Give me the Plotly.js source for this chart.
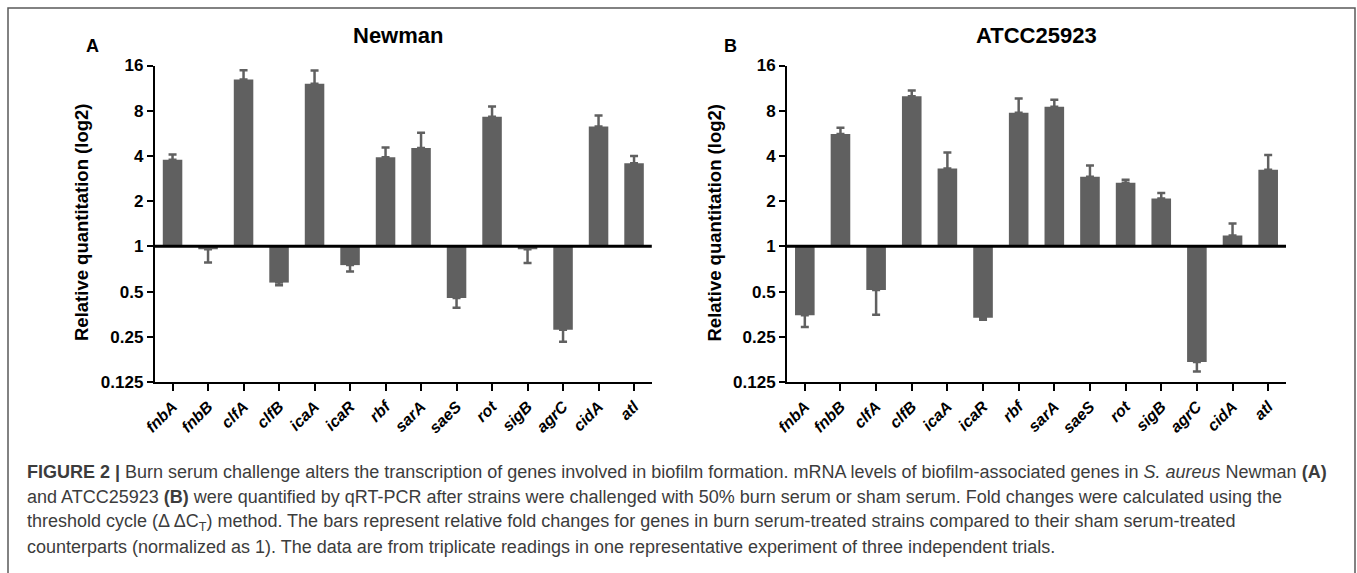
<!DOCTYPE html>
<html>
<head>
<meta charset="utf-8">
<script src="https://cdn.plot.ly/plotly-3.0.1.min.js"></script>
<style>
html,body{margin:0;padding:0;background:#fff;}
#chart{width:1357px;height:573px;}
</style>
</head>
<body>
<div id="chart"></div>
<script>
// ---- data (fold change values) ----
var genes = ["fnbA","fnbB","clfA","clfB","icaA","icaR","rbf","sarA","saeS","rot","sigB","agrC","cidA","atl"];
var yTickVals = [0.125, 0.25, 0.5, 1, 2, 4, 8, 16];
var yTickText = ["0.125","0.25","0.5","1","2","4","8","16"];

// Newman (A): bar value and end of whisker (fold change)
var newmanFold   = [3.77, 0.955, 12.9, 0.574, 12.1, 0.75, 3.92, 4.51, 0.453, 7.29, 0.955, 0.278, 6.28, 3.58];
var newmanErrEnd = [4.09, 0.78, 14.9, 0.55, 14.8, 0.68, 4.56, 5.7, 0.39, 8.54, 0.775, 0.232, 7.44, 4.0];

// ATCC25923 (B)
var atccFold   = [0.348, 5.59, 0.512, 10.0, 3.3, 0.335, 7.74, 8.5, 2.91, 2.65, 2.08, 0.170, 1.18, 3.24];
var atccErrEnd = [0.29, 6.16, 0.35, 10.9, 4.22, 0.325, 9.65, 9.45, 3.46, 2.78, 2.27, 0.147, 1.42, 4.05];

// ---- helpers ----
var W = 1357, H = 573;
function X(p){ return p / W; }
function Y(p){ return 1 - p / H; }
var barColor = "rgb(96,96,96)";
var fontFam = "Arial, 'Liberation Sans', Helvetica, sans-serif";

function log2(v){ return Math.log(v) / Math.LN2; }
function makeTrace(fold, errEnd, xa, ya){
  var y = fold.map(log2);
  var plus = fold.map(function(v,i){ return v >= 1 ? log2(errEnd[i]) - log2(v) : 0; });
  var minus = fold.map(function(v,i){ return v < 1 ? log2(v) - log2(errEnd[i]) : 0; });
  return {
    type: "bar", x: genes, y: y, xaxis: xa, yaxis: ya,
    marker: {color: barColor, line: {width: 0}},
    error_y: {type: "data", symmetric: false, array: plus, arrayminus: minus,
              color: barColor, thickness: 2.5, width: 4},
    hoverinfo: "none",
    showlegend: false
  };
}

var data = [
  makeTrace(newmanFold, newmanErrEnd, "x", "y"),
  makeTrace(atccFold, atccErrEnd, "x2", "y2")
];

var yVals = yTickVals.map(log2);
function xAxis(domain, anchor){
  return {
    domain: domain, anchor: anchor, type: "category",
    range: [-0.5, genes.length - 0.5],
    showline: true, linecolor: "#000", linewidth: 2,
    ticks: "outside", ticklen: 7, tickwidth: 2, tickcolor: "#000",
    tickangle: -45, showgrid: false, zeroline: false,
    tickfont: {family: fontFam, size: 16, color: "#000", weight: "bold", style: "italic"}
  };
}
function yAxis(domain, anchor){
  return {
    domain: domain, anchor: anchor,
    range: [log2(yTickVals[0]), log2(yTickVals[yTickVals.length-1])],
    tickmode: "array", tickvals: yVals, ticktext: yTickText,
    showline: true, linecolor: "#000", linewidth: 2,
    ticks: "outside", ticklen: 6, tickwidth: 2, tickcolor: "#000",
    showgrid: false, zeroline: false,
    tickfont: {family: fontFam, size: 17, color: "#000", weight: "bold"}
  };
}

var yDom = [Y(382), Y(65.5)];
var capFont = {family: fontFam, size: 18, color: "#3c3c3c"};
var captionLines = [
  "<b>FIGURE 2 |</b> Burn serum challenge alters the transcription of genes involved in biofilm formation. mRNA levels of biofilm-associated genes in <i>S. aureus</i> Newman <b>(A)</b>",
  "and ATCC25923 <b>(B)</b> were quantified by qRT-PCR after strains were challenged with 50% burn serum or sham serum. Fold changes were calculated using the",
  "threshold cycle (\u0394\u2009\u0394C<sub>T</sub>) method. The bars represent relative fold changes for genes in burn serum-treated strains compared to their sham serum-treated",
  "counterparts (normalized as 1). The data are from triplicate readings in one representative experiment of three independent trials."
];
var captionY = [472, 497, 522, 547];

function ann(text, px, py, size, extra){
  var a = {text: text, x: X(px), y: Y(py), xref: "paper", yref: "paper", showarrow: false,
           xanchor: "center", yanchor: "middle", font: {family: fontFam, size: size, color: "#000"}};
  for (var k in (extra || {})) a[k] = extra[k];
  return a;
}
var annotations = [
  ann("<b>Newman</b>", 398, 36, 22),
  ann("<b>ATCC25923</b>", 1036, 36, 22),
  ann("<b>A</b>", 92, 46, 18),
  ann("<b>B</b>", 730, 46, 18),
  ann("<b>Relative quantitation (log2)</b>", 81, 223, 18.5, {textangle: -90}),
  ann("<b>Relative quantitation (log2)</b>", 713.5, 223, 18.5, {textangle: -90})
];
captionLines.forEach(function(t, i){
  annotations.push({text: t, x: X(25), y: Y(captionY[i]), xref: "paper", yref: "paper",
    xanchor: "left", yanchor: "middle", showarrow: false, align: "left", font: capFont});
});

var layout = {
  width: W, height: H,
  margin: {l: 0, r: 0, t: 0, b: 0},
  paper_bgcolor: "#fff", plot_bgcolor: "rgba(0,0,0,0)",
  bargap: 0.45,
  xaxis: xAxis([X(154.8), X(651.8)], "y"),
  yaxis: yAxis(yDom, "x"),
  xaxis2: xAxis([X(787), X(1286)], "y2"),
  yaxis2: yAxis(yDom, "x2"),
  annotations: annotations,
  shapes: [
    {type: "line", xref: "x domain", yref: "y", x0: 0, x1: 1, y0: 0, y1: 0,
     line: {color: "#000", width: 3}, layer: "above"},
    {type: "line", xref: "x2 domain", yref: "y2", x0: 0, x1: 1, y0: 0, y1: 0,
     line: {color: "#000", width: 3}, layer: "above"},
    {type: "rect", xref: "paper", yref: "paper", x0: X(8), x1: X(1355), y0: -0.05, y1: Y(8),
     line: {color: "#5a5a5a", width: 1.5}, fillcolor: "rgba(0,0,0,0)", layer: "below"}
  ]
};

Plotly.newPlot("chart", data, layout, {staticPlot: true, displayModeBar: false});
</script>
</body>
</html>
